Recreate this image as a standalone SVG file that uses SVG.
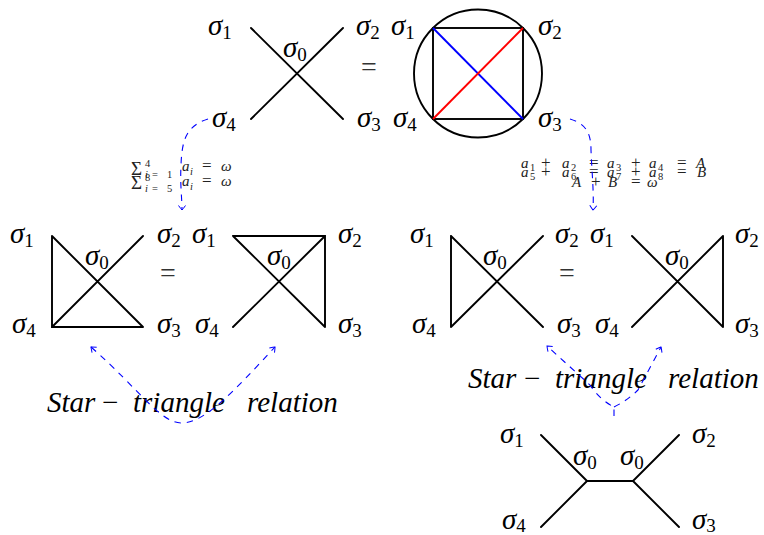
<svg xmlns="http://www.w3.org/2000/svg" width="764" height="535" viewBox="0 0 764 535">
<style>
.ln{stroke:#000;stroke-width:1.9;fill:none;stroke-linecap:round}
.s{font-family:"Liberation Serif","Times New Roman",serif;font-style:italic;font-size:29px;fill:#000}
.sb{font-style:normal;font-size:19px}
.eq{font-family:"Liberation Serif","Times New Roman",serif;font-size:28px;fill:#333}
.f{font-family:"Liberation Serif","Times New Roman",serif;font-style:italic;font-size:15px;fill:#222}
.fo{font-family:"Liberation Serif","Times New Roman",serif;font-style:normal;font-size:17px;fill:#222}
.fs{font-family:"Liberation Serif","Times New Roman",serif;font-style:normal;font-size:10.5px;fill:#222}
.fi{font-style:italic}
.big{font-family:"Liberation Serif","Times New Roman",serif;font-style:normal;font-size:19px;fill:#222}
.rel{font-family:"Liberation Serif","Times New Roman",serif;font-style:italic;font-size:29px;fill:#000}
.mn{font-family:"Liberation Serif","Times New Roman",serif;font-size:29px;fill:#000}
.arr{stroke:#0000ff;stroke-width:1.1;fill:none;stroke-dasharray:6.5 6}
</style>
<defs>
<marker id="ah" viewBox="-6 -5 8 10" markerWidth="8" markerHeight="10" refX="0" refY="0" orient="auto-start-reverse" markerUnits="userSpaceOnUse">
<path d="M-4.5,-3.5 Q-1,-1 0,0 Q-1,1 -4.5,3.5" stroke="#0000ff" stroke-width="1" fill="none"/>
</marker>
</defs>

<g id="top-star">
<path class="ln" d="M251,28 L343,119 M251,119 L343,28"/>
<text class="s" x="208" y="35">σ<tspan class="sb" dy="4">1</tspan></text>
<text class="s" x="356" y="35">σ<tspan class="sb" dy="4">2</tspan></text>
<text class="s" x="212" y="127">σ<tspan class="sb" dy="4">4</tspan></text>
<text class="s" x="357" y="127">σ<tspan class="sb" dy="4">3</tspan></text>
<text class="s" x="283" y="57">σ<tspan class="sb" dy="4">0</tspan></text>
</g>
<text class="eq" x="361" y="76">=</text>

<g id="top-circle">
<circle class="ln" cx="478" cy="73.5" r="64"/>
<rect class="ln" x="433" y="28" width="90" height="91"/>
<path d="M433,28 L523,119" stroke="#0000ff" stroke-width="1.9"/>
<path d="M433,119 L523,28" stroke="#ff0000" stroke-width="1.9"/>
<text class="s" x="391" y="35">σ<tspan class="sb" dy="4">1</tspan></text>
<text class="s" x="538" y="35">σ<tspan class="sb" dy="4">2</tspan></text>
<text class="s" x="393" y="127">σ<tspan class="sb" dy="4">4</tspan></text>
<text class="s" x="538" y="127">σ<tspan class="sb" dy="4">3</tspan></text>
</g>

<g id="mid-left-a">
<path class="ln" d="M52,236 L143,327 M52,327 L143,236 M52,236 L52,327 L143,327"/>
<text class="s" x="10" y="243">σ<tspan class="sb" dy="4">1</tspan></text>
<text class="s" x="157" y="243">σ<tspan class="sb" dy="4">2</tspan></text>
<text class="s" x="12" y="333">σ<tspan class="sb" dy="4">4</tspan></text>
<text class="s" x="157" y="333">σ<tspan class="sb" dy="4">3</tspan></text>
<text class="s" x="85" y="265">σ<tspan class="sb" dy="4">0</tspan></text>
</g>
<text class="eq" x="160" y="282">=</text>
<g id="mid-left-b">
<path class="ln" d="M233,236 L325,327 M233,327 L325,236 M233,236 L325,236 L325,327"/>
<text class="s" x="192" y="243">σ<tspan class="sb" dy="4">1</tspan></text>
<text class="s" x="338" y="243">σ<tspan class="sb" dy="4">2</tspan></text>
<text class="s" x="195" y="333">σ<tspan class="sb" dy="4">4</tspan></text>
<text class="s" x="338" y="333">σ<tspan class="sb" dy="4">3</tspan></text>
<text class="s" x="267" y="265">σ<tspan class="sb" dy="4">0</tspan></text>
</g>

<g id="mid-right-a">
<path class="ln" d="M451,236 L543,327 M451,327 L543,236 M451,236 L451,327"/>
<text class="s" x="410" y="243">σ<tspan class="sb" dy="4">1</tspan></text>
<text class="s" x="555" y="243">σ<tspan class="sb" dy="4">2</tspan></text>
<text class="s" x="412" y="333">σ<tspan class="sb" dy="4">4</tspan></text>
<text class="s" x="557" y="333">σ<tspan class="sb" dy="4">3</tspan></text>
<text class="s" x="483" y="265">σ<tspan class="sb" dy="4">0</tspan></text>
</g>
<text class="eq" x="559" y="282">=</text>
<g id="mid-right-b">
<path class="ln" d="M632,236 L723,327 M632,327 L723,236 M723,236 L723,327"/>
<text class="s" x="590" y="243">σ<tspan class="sb" dy="4">1</tspan></text>
<text class="s" x="735" y="243">σ<tspan class="sb" dy="4">2</tspan></text>
<text class="s" x="595" y="333">σ<tspan class="sb" dy="4">4</tspan></text>
<text class="s" x="735" y="333">σ<tspan class="sb" dy="4">3</tspan></text>
<text class="s" x="665" y="265">σ<tspan class="sb" dy="4">0</tspan></text>
</g>

<g id="bottom">
<path class="ln" d="M541,435 L587,481 L633,481 L679,435 M587,481 L541,527 M633,481 L679,527"/>
<text class="s" x="500" y="443">σ<tspan class="sb" dy="4">1</tspan></text>
<text class="s" x="692" y="443">σ<tspan class="sb" dy="4">2</tspan></text>
<text class="s" x="502" y="529">σ<tspan class="sb" dy="3">4</tspan></text>
<text class="s" x="692" y="529">σ<tspan class="sb" dy="3">3</tspan></text>
<text class="s" x="573" y="465">σ<tspan class="sb" dy="4">0</tspan></text>
<text class="s" x="620" y="465">σ<tspan class="sb" dy="4">0</tspan></text>
</g>

<g id="formula-left">
<text class="big" x="131" y="175">Σ</text>
<text class="fs" x="145" y="167">4</text>
<text class="fs" y="178"><tspan class="fi" x="145">i</tspan><tspan x="152">=</tspan><tspan x="167">1</tspan></text>
<text class="f" x="182" y="171">a</text><text class="fs fi" x="190" y="175">i</text>
<text class="fo" x="202" y="171">=</text>
<text class="f" x="221" y="171">ω</text>
<text class="big" x="131" y="189">Σ</text>
<text class="fs" x="145" y="181">8</text>
<text class="fs" y="192"><tspan class="fi" x="145">i</tspan><tspan x="152">=</tspan><tspan x="167">5</tspan></text>
<text class="f" x="182" y="186">a</text><text class="fs fi" x="190" y="190">i</text>
<text class="fo" x="202" y="186">=</text>
<text class="f" x="221" y="186">ω</text>
</g>

<g id="formula-right">
<text class="f" y="168"><tspan x="521">a</tspan><tspan x="562">a</tspan><tspan x="607">a</tspan><tspan x="649">a</tspan><tspan x="696">A</tspan></text>
<text class="fs" y="171"><tspan x="530">1</tspan><tspan x="571">2</tspan><tspan x="616">3</tspan><tspan x="658">4</tspan></text>
<text class="fo" y="168"><tspan x="541">+</tspan><tspan x="589">=</tspan><tspan x="631">+</tspan><tspan x="677">=</tspan></text>
<text class="f" y="177"><tspan x="521">a</tspan><tspan x="562">a</tspan><tspan x="607">a</tspan><tspan x="649">a</tspan><tspan x="697">B</tspan></text>
<text class="fs" y="180"><tspan x="530">5</tspan><tspan x="571">6</tspan><tspan x="616">7</tspan><tspan x="658">8</tspan></text>
<text class="fo" y="177"><tspan x="541">+</tspan><tspan x="589">=</tspan><tspan x="631">+</tspan><tspan x="677">=</tspan></text>
<text class="f" y="187"><tspan x="572">A</tspan><tspan x="608">B</tspan><tspan x="647">ω</tspan></text>
<text class="fo" y="187"><tspan x="591">+</tspan><tspan x="631">=</tspan></text>
</g>

<g id="relation-left">
<text class="rel" y="412"><tspan x="47">Star</tspan><tspan class="mn" x="102" font-style="normal">−</tspan><tspan x="133">triangle</tspan><tspan x="247">relation</tspan></text>
</g>
<g id="relation-right">
<text class="rel" y="388"><tspan x="468">Star</tspan><tspan class="mn" x="524" font-style="normal">−</tspan><tspan x="555">triangle</tspan><tspan x="668">relation</tspan></text>
</g>

<g id="connectors">
<path class="arr" marker-end="url(#ah)" d="M208,119 C186,126 182,140 181,165 C180,185 182,198 182,210"/>
<path class="arr" marker-end="url(#ah)" d="M570,119 C586,124 591,133 591,150 C592,175 594,192 593,210"/>
<path class="arr" marker-start="url(#ah)" marker-end="url(#ah)" d="M91,347 C140,390 160,423 182,423 C205,423 235,390 275,347"/>
<path class="arr" marker-end="url(#ah)" d="M614,416 L614,407 Q600,400 590,385 L547,346"/>
<path class="arr" marker-end="url(#ah)" d="M614,407 Q628,400 638,390 L661,347"/>
</g>
</svg>
